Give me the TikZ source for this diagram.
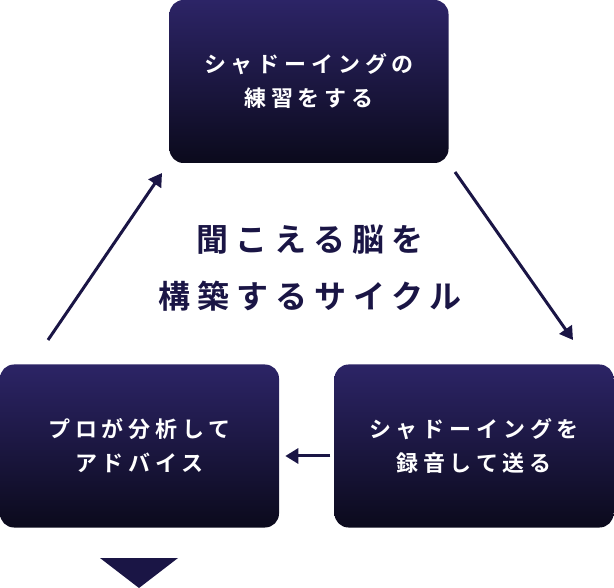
\documentclass[tikz,border=0pt]{standalone}
\usepackage{fontspec}
\newfontfamily\jp{Noto Sans CJK JP}[BoldFont={* Bold},LetterSpace=22]
\usetikzlibrary{arrows.meta}
\definecolor{navtop}{HTML}{2C2466}
\definecolor{navbot}{HTML}{0B0A1C}
\definecolor{ink}{HTML}{1A1545}
\tikzset{
 box/.style={rounded corners=14pt,top color=navtop,bottom color=navbot,draw=none,
   minimum width=279pt,minimum height=163pt,text=white,align=center,
   font=\jp\bfseries\fontsize{22}{34}\selectfont},
 arr/.style={draw=ink,line width=3pt,-{Triangle[length=13pt,width=15pt]}}
}
\begin{document}
\begin{tikzpicture}[x=1pt,y=-1pt]
\useasboundingbox (0,0) rectangle (614,588);
\node[box] (top) at (309,81.5) {シャドーイングの\\練習をする};
\node[box] (left) at (139.5,446) {プロが分析して\\アドバイス};
\node[box] (right) at (474,446) {シャドーイングを\\録音して送る};
\node[text=ink,align=center,font=\jp\bfseries\fontsize{32}{57}\selectfont] (mid) at (310,268) {聞こえる脳を\\構築するサイクル};
\coordinate (a1) at (48,340); \coordinate (a2) at (162,173);
\coordinate (b1) at (455,172); \coordinate (b2) at (573,340);
\draw[arr] (a1) -- (a2);
\draw[arr] (b1) -- (b2);
\draw[arr] (right.west) ++(-4,10) coordinate (c1) -- ++(-45,0) coordinate (c2);
\fill[ink] (100,558) -- (178,558) -- (139,588) -- cycle;
\end{tikzpicture}
\end{document}
